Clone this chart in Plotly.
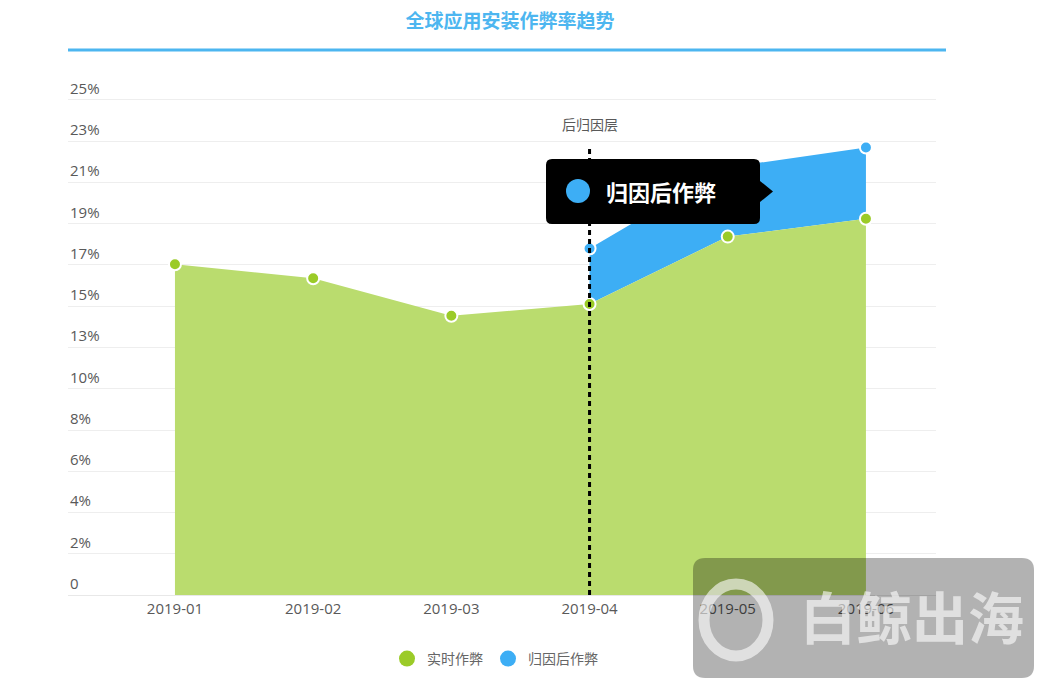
import plotly.graph_objects as go

# ---------------- data ----------------
categories = ["2019-01", "2019-02", "2019-03", "2019-04", "2019-05", "2019-06"]
realtime_fraud = [16.7, 16.0, 14.1, 14.7, 18.1, 19.0]          # 实时作弊 (%)
post_attr_fraud = [None, None, None, 17.5, 21.6, 22.6]         # 归因后作弊 (%)
y_tick_vals = [0, 2.083, 4.167, 6.25, 8.333, 10.417, 12.5, 14.583, 16.667, 18.75, 20.833, 22.917, 25]
y_tick_labels = ["0", "2%", "4%", "6%", "8%", "10%", "13%", "15%", "17%", "19%", "21%", "23%", "25%"]
marker_category = "2019-04"

GREEN_FILL = "#BADC6E"
GREEN = "#9BCB28"
BLUE = "#3DAEF5"
TITLE_BLUE = "#4DB6F0"
FONT = "Open Sans, 'Noto Sans CJK SC', sans-serif"
CJK = "'Noto Sans CJK SC', sans-serif"

W, H = 1044, 688
L, R, T, B = 68, 108, 98, 93
PW, PH = W - L - R, H - T - B


def pxx(x):
    return (x - L) / PW


def pxy(y):
    return (H - B - y) / PH


start = categories.index(marker_category)
seg_x = categories[start:]
seg_green = realtime_fraud[start:]
seg_blue = post_attr_fraud[start:]

fig = go.Figure()

# base for blue band (invisible)
fig.add_trace(go.Scatter(x=seg_x, y=seg_green, mode="lines", line=dict(width=0, color=BLUE),
                         showlegend=False, hoverinfo="skip"))
# blue band
fig.add_trace(go.Scatter(x=seg_x, y=seg_blue, mode="lines+markers", fill="tonexty",
                         fillcolor=BLUE, line=dict(width=0, color=BLUE),
                         marker=dict(size=12, color=BLUE, line=dict(color="white", width=2)),
                         showlegend=False, name="归因后作弊"))
# green area
fig.add_trace(go.Scatter(x=categories, y=realtime_fraud, mode="lines+markers", fill="tozeroy",
                         fillcolor=GREEN_FILL, line=dict(width=0, color=GREEN_FILL),
                         marker=dict(size=12, color=GREEN, line=dict(color="white", width=2)),
                         showlegend=False, name="实时作弊"))

# legend-only traces
fig.add_trace(go.Scatter(x=[None], y=[None], mode="markers", name="实时作弊",
                         marker=dict(size=18, color=GREEN)))
fig.add_trace(go.Scatter(x=[None], y=[None], mode="markers", name="归因后作弊",
                         marker=dict(size=18, color=BLUE)))

shapes = []
# title underline
shapes.append(dict(type="line", xref="paper", yref="paper", x0=0, x1=pxx(946),
                   y0=pxy(50), y1=pxy(50), line=dict(color=TITLE_BLUE, width=3)))
# vertical dashed marker line
vmax = max(v for v in post_attr_fraud if v is not None)
shapes.append(dict(type="line", xref="x", yref="y", x0=start, x1=start, y0=0, y1=vmax,
                   line=dict(color="black", width=3, dash="5px,4px"), layer="above"))

# tooltip box with pointer
lft, rgt, top, bot = pxx(546), pxx(760), pxy(159), pxy(224)
rx, ry = 6 / PW, 6 / PH
tip_x, mid = pxx(773), pxy(191.5)
tt, tb = pxy(181), pxy(202)
path = (f"M {lft+rx},{top} L {rgt-rx},{top} Q {rgt},{top} {rgt},{top-ry} "
        f"L {rgt},{tt} L {tip_x},{mid} L {rgt},{tb} L {rgt},{bot+ry} "
        f"Q {rgt},{bot} {rgt-rx},{bot} L {lft+rx},{bot} Q {lft},{bot} {lft},{bot+ry} "
        f"L {lft},{top-ry} Q {lft},{top} {lft+rx},{top} Z")
shapes.append(dict(type="path", xref="paper", yref="paper", path=path,
                   fillcolor="black", line=dict(width=0), layer="above"))
shapes.append(dict(type="circle", xref="paper", yref="paper",
                   x0=pxx(566), x1=pxx(590), y0=pxy(203), y1=pxy(179),
                   fillcolor=BLUE, line=dict(width=0), layer="above"))

# watermark
wl, wr, wt, wb = pxx(693), pxx(1034), pxy(558), pxy(678)
rx2, ry2 = 12 / PW, 12 / PH
wpath = (f"M {wl+rx2},{wt} L {wr-rx2},{wt} Q {wr},{wt} {wr},{wt-ry2} L {wr},{wb+ry2} "
         f"Q {wr},{wb} {wr-rx2},{wb} L {wl+rx2},{wb} Q {wl},{wb} {wl},{wb+ry2} "
         f"L {wl},{wt-ry2} Q {wl},{wt} {wl+rx2},{wt} Z")
shapes.append(dict(type="path", xref="paper", yref="paper", path=wpath,
                   fillcolor="rgba(0,0,0,0.3)", line=dict(width=0), layer="above"))
shapes.append(dict(type="circle", xref="paper", yref="paper",
                   x0=pxx(704), x1=pxx(768), y0=pxy(656), y1=pxy(584),
                   fillcolor="rgba(0,0,0,0)", line=dict(color="rgba(255,255,255,0.6)", width=11),
                   layer="above"))

annotations = [
    dict(text="后归因层", x=start, y=vmax, xref="x", yref="y", yshift=24, showarrow=False,
         font=dict(family=CJK, size=14, color="#595959")),
    dict(text="<b>归因后作弊</b>", xref="paper", yref="paper", x=pxx(604), y=pxy(191.5),
         xanchor="left", yanchor="middle", showarrow=False,
         font=dict(family=CJK, size=22, color="white")),
    dict(text="<b>白鲸出海</b>", xref="paper", yref="paper", x=pxx(912), y=pxy(614),
         xanchor="center", yanchor="middle", showarrow=False,
         font=dict(family=CJK, size=56, color="rgba(255,255,255,0.6)")),
]
# y-axis labels sitting on top of their grid lines
for v, lab in zip(y_tick_vals, y_tick_labels):
    annotations.append(dict(text=lab, x=0, xref="paper", y=v, yref="y", xanchor="left",
                            yanchor="bottom", yshift=0, showarrow=False,
                            font=dict(family=FONT, size=15, color="#595959")))

fig.update_layout(
    width=W, height=H,
    margin=dict(l=L, r=R, t=T, b=B),
    paper_bgcolor="white", plot_bgcolor="white",
    font=dict(family=FONT, color="#595959", size=14),
    title=dict(text="<b>全球应用安装作弊率趋势</b>", x=pxx(510), xanchor="center",
               xref="paper", y=1 - 21 / H, yanchor="middle", yref="container",
               font=dict(family=CJK, size=19, color=TITLE_BLUE)),
    xaxis=dict(type="category", categoryorder="array", categoryarray=categories,
               range=[-0.774, 5.507], showgrid=False, zeroline=False,
               showline=True, linecolor="#E8E8E8", linewidth=1, ticks="",
               tickfont=dict(family=FONT, size=15, color="#595959")),
    yaxis=dict(range=[0, 25.1], tickvals=y_tick_vals, showticklabels=False,
               showgrid=True, gridcolor="#EEEEEE",
               gridwidth=1, zeroline=False, showline=False, ticks=""),
    legend=dict(orientation="h", x=pxx(495), xanchor="center", y=pxy(659), yanchor="middle",
                font=dict(family=CJK, size=14, color="#666666"), itemsizing="trace",
                traceorder="normal"),
    shapes=shapes,
    annotations=annotations,
    hovermode=False,
)

fig.write_html("out.html", config={"displayModeBar": False},
               post_script="document.body.style.margin='0px';")
